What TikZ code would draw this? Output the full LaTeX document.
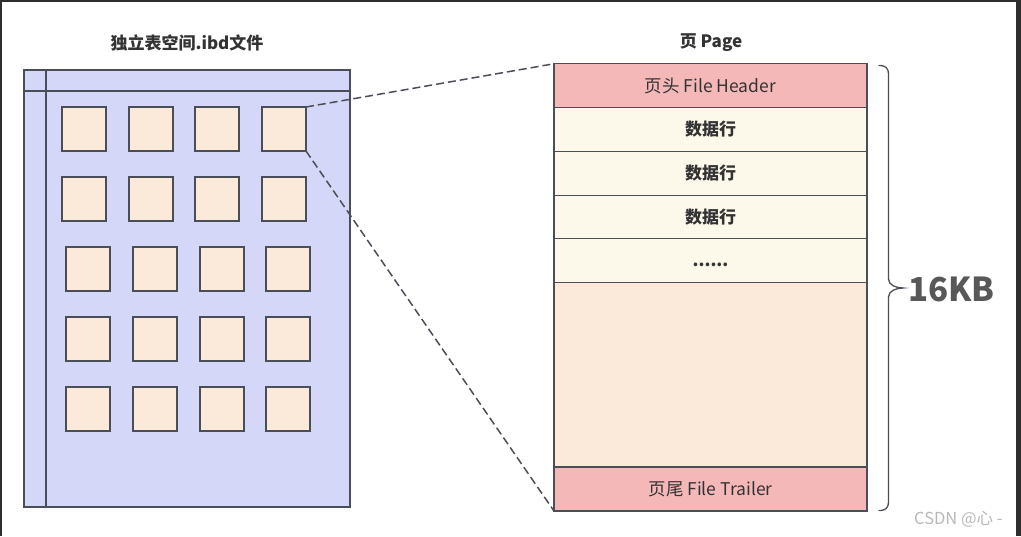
\documentclass[tikz,border=0pt]{standalone}
\usepackage{fontspec}
\setmainfont{Noto Sans CJK SC}
\definecolor{edge}{HTML}{4A4F57}
\definecolor{lav}{HTML}{D4D7F7}
\definecolor{peach}{HTML}{FBE9DA}
\definecolor{pinkc}{HTML}{F5B8B8}
\definecolor{cream}{HTML}{FCF8EA}
\definecolor{txt}{HTML}{333333}
\definecolor{kbgray}{HTML}{585858}
\definecolor{frame}{HTML}{2E2E2E}
\tikzset{
  box/.style={draw=edge, line width=1.3pt, inner sep=0pt, outer sep=0pt},
  cell/.style={box, fill=peach, minimum width=44pt, minimum height=44pt},
  pagepart/.style={box, minimum width=313pt, text=txt, font=\fontsize{17.5}{20}\selectfont},
  rowtext/.style={font=\bfseries\fontsize{17}{20}\selectfont},
  link/.style={draw=edge, line width=1.5pt, dash pattern=on 8pt off 4pt},
}
\begin{document}
\begin{tikzpicture}[x=1pt,y=-1pt]
\useasboundingbox (0,0) rectangle (1021,536);
\fill[white] (0,0) rectangle (1021,536);
% screenshot frame
\fill[frame] (0,0) rectangle (1021,1.5);
\fill[frame] (0,0) rectangle (1.8,536);
\fill[frame] (1016,0) rectangle (1021,536);
% titles
\node[font=\bfseries\fontsize{17}{20}\selectfont, text=txt] (t1) at (187,43) {独立表空间.ibd文件};
\node[font=\bfseries\fontsize{17}{20}\selectfont, text=txt] (t2) at (711,43) {页 Page};
% tablespace file
\node[box, fill=lav, minimum width=326pt, minimum height=437pt] (file) at (187,288.5) {};
\draw[edge, line width=1.3pt] (46,70) -- (46,507);
\draw[edge, line width=1.3pt] (24,91) -- (350,91);
% pages
\foreach \r/\y in {1/129,2/199} {
  \foreach \c/\x in {1/84,2/151,3/217,4/284} {
    \node[cell] (s\r\c) at (\x,\y) {};
  }
}
\foreach \r/\y in {3/269,4/339,5/409} {
  \foreach \c/\x in {1/88,2/155,3/222,4/288} {
    \node[cell] (s\r\c) at (\x,\y) {};
  }
}
% page structure
\node[pagepart, fill=pinkc, minimum height=43.5pt] (hdr) at (710.5,85.5) {页头 File Header};
\node[pagepart, fill=cream, minimum height=44pt, rowtext] (r1) at (710.5,129.5) {数据行};
\node[pagepart, fill=cream, minimum height=44pt, rowtext] (r2) at (710.5,173.5) {数据行};
\node[pagepart, fill=cream, minimum height=43pt, rowtext] (r3) at (710.5,217) {数据行};
\node[pagepart, fill=cream, minimum height=44pt, rowtext] (r4) at (710.5,260.5) {\raisebox{-6pt}[0pt][0pt]{......}};
\node[pagepart, fill=peach, minimum height=185pt] (body) at (710.5,375) {};
\node[pagepart, fill=pinkc, minimum height=44pt] (trl) at (710.5,489) {页尾 File Trailer};
% connectors
\draw[link] (s14.north east) -- (hdr.north west);
\draw[link] (s14.south east) -- (trl.south west);
% brace
\draw[edge, line width=1.3pt, line cap=round]
  (879,65.5) .. controls (886,65.5) and (888.5,68) .. (888.5,75)
  -- (888.5,279) .. controls (888.5,285) and (896,288) .. (903,288)
  .. controls (896,288) and (888.5,291) .. (888.5,297)
  -- (888.5,501) .. controls (888.5,508) and (886,510.5) .. (879,510.5);
\node[font=\bfseries\fontsize{33}{38}\selectfont, text=kbgray, anchor=west, inner sep=0pt] (kb) at (908,289) {16KB};
% watermark
\begin{scope}
\clip (900,505) rectangle (1016,536);
\node[font=\fontsize{16.5}{18}\selectfont, text=black!28, anchor=west, inner sep=0pt] (wm) at (914,519) {CSDN @心 -};
\end{scope}
\end{tikzpicture}
\end{document}
